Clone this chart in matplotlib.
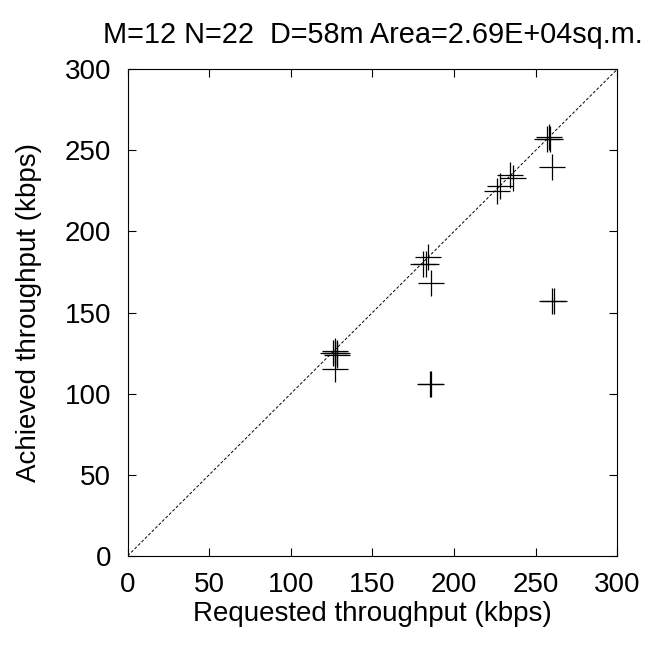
import matplotlib
matplotlib.use('Agg')
import matplotlib.pyplot as plt

plt.rcParams['font.family'] = ['Liberation Sans', 'DejaVu Sans']

# requested vs achieved throughput (kbps)
req = [126, 127, 128, 127, 128, 127,
       181, 183, 184, 186,
       226, 228, 234, 236,
       257, 258, 259, 260,
       260, 261,
       185, 186]
ach = [125, 126, 124, 125, 125, 115,
       180, 180, 184, 168,
       225, 228, 235, 233,
       257, 258, 257, 240,
       157, 157,
       106, 106]
ticks = [0, 50, 100, 150, 200, 250, 300]

fig = plt.figure(figsize=(6.45, 6.47), dpi=100)
ax = fig.add_axes([0.198, 0.141, 0.759, 0.752])
ax.plot([0, 300], [0, 300], color='black', linestyle=(0, (3, 2)), linewidth=0.7)
ax.plot(req, ach, linestyle='none', marker='+', markersize=19,
        markeredgewidth=0.9, color='black')
ax.set_xlim(0, 300)
ax.set_ylim(0, 300)
ax.set_xticks(ticks)
ax.set_yticks(ticks)
ax.tick_params(direction='in', top=True, right=True, length=6, labelsize=20, pad=12)
ax.set_xlabel('Requested throughput (kbps)', fontsize=20, labelpad=2)
ax.set_ylabel('Achieved throughput (kbps)', fontsize=20, labelpad=16)
fig.text(0.578, 0.946, 'M=12 N=22  D=58m Area=2.69E+04sq.m.', fontsize=20.8,
         ha='center', va='center')
fig.savefig('out.png', dpi=100)
